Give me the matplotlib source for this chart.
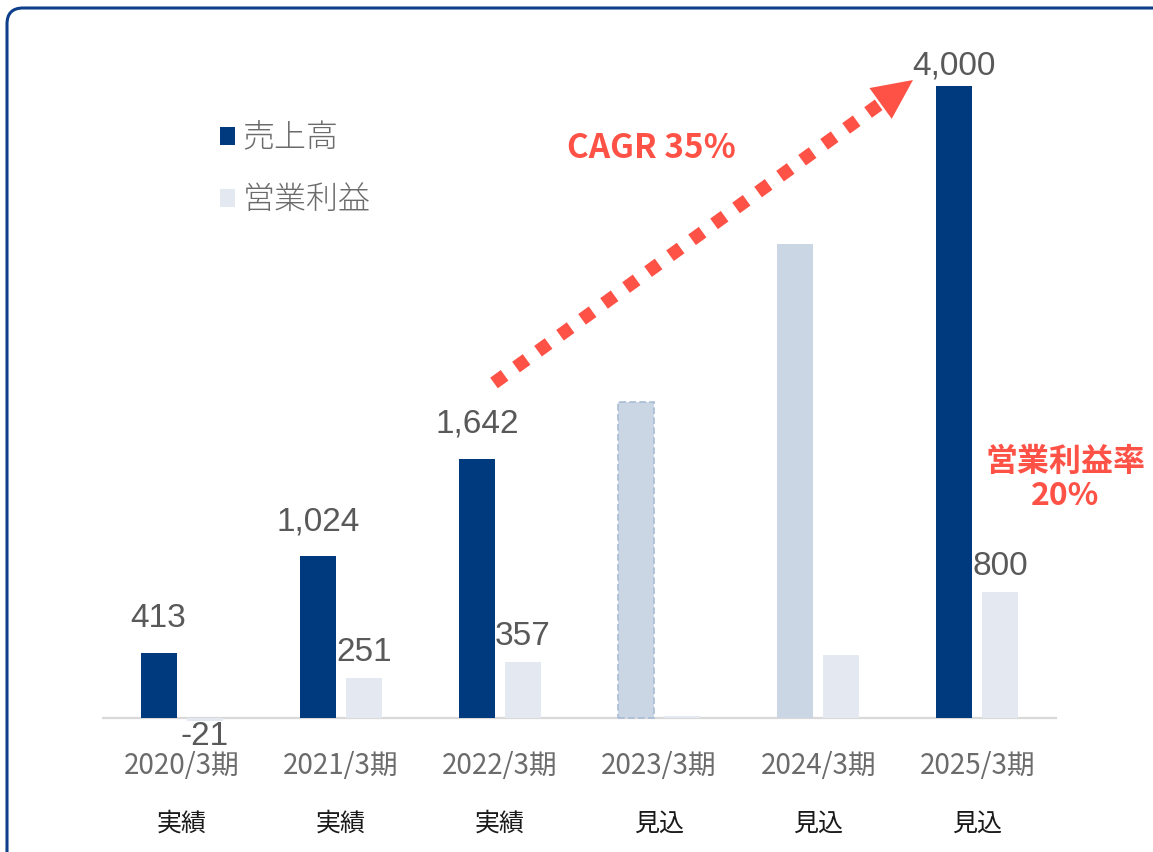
import numpy as np
import matplotlib
matplotlib.use("Agg")
import matplotlib.pyplot as plt
from matplotlib.patches import Patch, FancyBboxPatch, Polygon
from matplotlib.transforms import IdentityTransform

# ---- data ----
periods = ["2020/3期", "2021/3期", "2022/3期", "2023/3期", "2024/3期", "2025/3期"]
phases = ["実績", "実績", "実績", "見込", "見込", "見込"]
sales = [413, 1024, 1642, 2000, 3000, 4000]
op_profit = [-21, 251, 357, 10, 400, 800]
show_label = [True, True, True, False, False, True]
series_names = ["売上高", "営業利益"]
cagr_text = "CAGR 35%"
margin_text = "営業利益率\n20%"

# ---- style ----
NAVY = "#003A7E"
LIGHT_SALES = "#CAD6E4"
OP_COLOR = "#E4E9F1"
RED = "#FF5247"
VAL_COLOR = "#595959"
TICK_COLOR = "#6B6B6B"
CJK = ["Noto Sans CJK JP", "DejaVu Sans"]
LAT = ["Liberation Sans", "DejaVu Sans"]

W, H = 1153, 852
fig = plt.figure(figsize=(W / 100, H / 100), dpi=100)
fig.patch.set_facecolor("white")

base_px, top_px, bot_px, v4000_px = 718, 20, 740, 86
scale = (base_px - v4000_px) / 4000.0
ax = fig.add_axes([102 / W, (H - bot_px) / H, 955 / W, (bot_px - top_px) / H])
ax.set_xlim(-0.5, 5.5)
ax.set_ylim(-(bot_px - base_px) / scale, (base_px - top_px) / scale)
ax.axis("off")

x = np.arange(len(periods))
bw = 0.226
off = 0.1445
sales_colors = [NAVY, NAVY, NAVY, LIGHT_SALES, LIGHT_SALES, NAVY]
sb = ax.bar(x - off, sales, bw, color=sales_colors, zorder=3)
ob = ax.bar(x + off, op_profit, bw, color=OP_COLOR, zorder=3)
sb[3].set_edgecolor("#A9BCD6")
sb[3].set_linestyle((0, (4, 2)))
sb[3].set_linewidth(1.2)

ax.axhline(0, color="#D9D9D9", lw=1.6, zorder=2)

px2pt = 0.72
for i in range(len(periods)):
    if not show_label[i]:
        continue
    s_off = 26 if sales[i] < max(sales) else 11
    ax.annotate(f"{sales[i]:,}", (x[i] - off, sales[i]), xytext=(0, s_off * px2pt),
                textcoords="offset points", ha="center", va="baseline",
                fontsize=24, color=VAL_COLOR, family=LAT, zorder=5)
    v = op_profit[i]
    if v >= 0:
        ax.annotate(f"{v:,}", (x[i] + off, v), xytext=(0, 17 * px2pt),
                    textcoords="offset points", ha="center", va="baseline",
                    fontsize=24, color=VAL_COLOR, family=LAT, zorder=5)
    else:
        ax.annotate(f"{v:,}", (x[i] + off, v), xytext=(0, -24 * px2pt),
                    textcoords="offset points", ha="center", va="baseline",
                    fontsize=24, color=VAL_COLOR, family=LAT, zorder=5)

for i in range(len(periods)):
    ax.annotate(periods[i], (x[i], 0), xytext=(0, -48 * px2pt), textcoords="offset points",
                ha="center", va="center", fontsize=20, color=TICK_COLOR, family=CJK,
                annotation_clip=False)
    ax.annotate(phases[i], (x[i], 0), xytext=(0, -106 * px2pt), textcoords="offset points",
                ha="center", va="center", fontsize=18, color="#1A1A1A", family=CJK,
                annotation_clip=False)

# legend
handles = [Patch(facecolor=NAVY), Patch(facecolor=OP_COLOR)]
leg = ax.legend(handles, series_names, loc="upper left",
                bbox_to_anchor=(220 / W, 1 - 121 / H), bbox_transform=fig.transFigure,
                frameon=False, prop={"family": CJK, "size": 23, "weight": "light"},
                handlelength=0.48, handleheight=0.48, handletextpad=0.22,
                labelspacing=0.85, borderpad=0, borderaxespad=0)
for t in leg.get_texts():
    t.set_color(TICK_COLOR)

# CAGR arrow (defined in pixel space of the image, converted to data)
def px_to_data(px, py):
    return ax.transData.inverted().transform((px, H - py))

tip = np.array([913.0, 80.0])
start = np.array([494.0, 383.0])
u = (tip - start) / np.linalg.norm(tip - start)
perp = np.array([-u[1], u[0]])
base_mid = tip - 40 * u
p1 = base_mid + 19 * perp
p2 = base_mid - 19 * perp
d0 = px_to_data(*start)
d1 = px_to_data(*base_mid)
ax.plot([d0[0], d1[0]], [d0[1], d1[1]], color=RED, lw=9.4,
        dashes=(1.0, 1.08), solid_capstyle="butt", dash_capstyle="butt", zorder=6)
tri = Polygon([px_to_data(*tip), px_to_data(*p1), px_to_data(*p2)], closed=True,
              facecolor=RED, edgecolor="none", zorder=6)
ax.add_patch(tri)

fig.text(651 / W, 1 - 149 / H, cagr_text, ha="center", va="center", fontsize=24,
         fontweight="bold", color=RED, family=CJK)
fig.text(1065 / W, 1 - 479 / H, margin_text, ha="center", va="center", fontsize=23,
         fontweight="bold", color=RED, family=CJK, linespacing=1.1)

# rounded frame
frame = FancyBboxPatch((7, -60), 1200, H - 8 + 60,
                       boxstyle="round,pad=0,rounding_size=16",
                       transform=IdentityTransform(), facecolor="none",
                       edgecolor="#0E3F8A", lw=2.2, zorder=10)
fig.patches.append(frame)

fig.savefig("out.png", dpi=100)
